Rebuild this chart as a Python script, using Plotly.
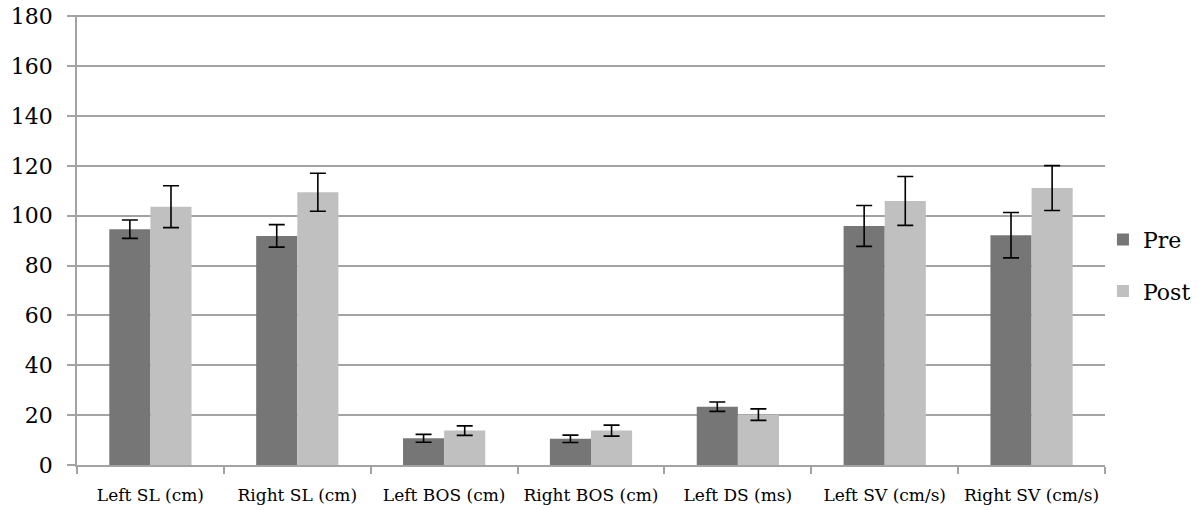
import plotly.graph_objects as go

# Gait parameters before and after the intervention
categories = ["Left SL (cm)", "Right SL (cm)", "Left BOS (cm)", "Right BOS (cm)",
              "Left DS (ms)", "Left SV (cm/s)", "Right SV (cm/s)"]
pre_mean = [94.6, 91.9, 10.7, 10.5, 23.4, 95.9, 92.2]
pre_err = [3.7, 4.5, 1.6, 1.5, 1.9, 8.2, 9.1]
post_mean = [103.6, 109.4, 13.8, 13.8, 20.2, 105.9, 111.1]
post_err = [8.4, 7.6, 1.9, 2.2, 2.3, 9.8, 9.0]
y_ticks = [0, 20, 40, 60, 80, 100, 120, 140, 160, 180]

FONT = "DejaVu Serif"
GRID = "#a3a3a3"

err_style = dict(type="data", color="black", thickness=1.6, width=8)

fig = go.Figure()
fig.add_trace(go.Bar(
    name="Pre", x=categories, y=pre_mean, marker_color="#767676",
    marker_line_width=0, legendgroup="pre",
    error_y=dict(array=pre_err, **err_style),
))
fig.add_trace(go.Bar(
    name="Post", x=categories, y=post_mean, marker_color="#c0c0c0",
    marker_line_width=0, legendgroup="post",
    error_y=dict(array=post_err, **err_style),
))

fig.update_layout(
    width=1204, height=510,
    margin=dict(l=77, r=99, t=15, b=44.5, autoexpand=False),
    paper_bgcolor="white", plot_bgcolor="white",
    barmode="group", bargap=0.44, bargroupgap=0,
    font=dict(family=FONT, color="black"),
    legend=dict(
        x=0.998, xanchor="left", y=0.443, yanchor="middle",
        font=dict(family=FONT, size=22, color="black"),
        traceorder="grouped", tracegroupgap=20,
        bgcolor="rgba(0,0,0,0)",
    ),
    xaxis=dict(
        type="category", tickson="boundaries", automargin=False,
        tickangle=0,
        ticks="outside", ticklen=7, tickcolor=GRID, tickwidth=1.5,
        showline=True, linecolor=GRID, linewidth=1.5,
        showgrid=False,
        ticklabelstandoff=14,
        tickfont=dict(family=FONT, size=17, color="black"),
    ),
    yaxis=dict(
        range=[0, 180.5], tickvals=y_ticks, automargin=False,
        ticks="outside", ticklen=8, tickcolor=GRID, tickwidth=1.5,
        showline=True, linecolor=GRID, linewidth=1.5,
        showgrid=True, gridcolor=GRID, gridwidth=1.5,
        zeroline=False,
        ticklabelstandoff=10,
        tickfont=dict(family=FONT, size=22, color="black"),
    ),
)

fig.write_html("out.html")
